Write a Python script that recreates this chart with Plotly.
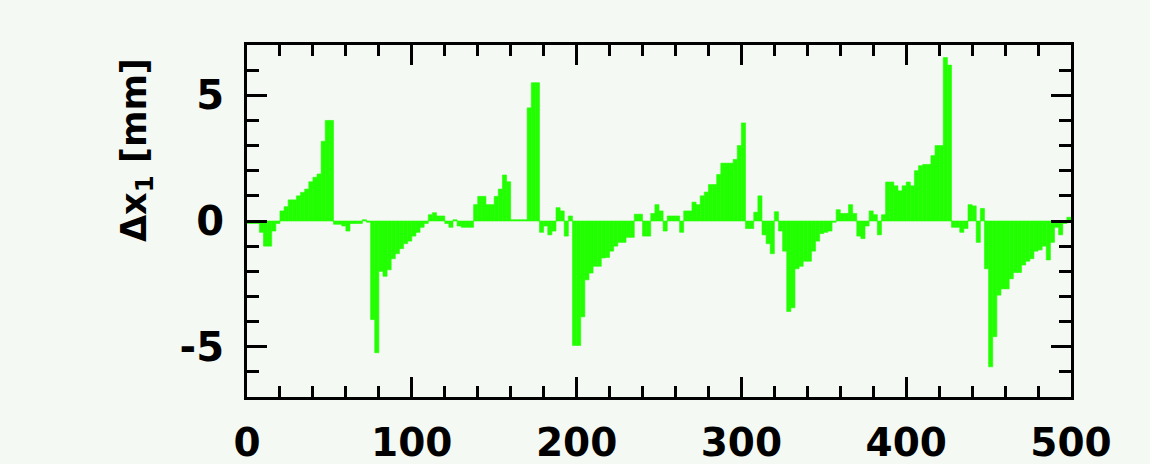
import plotly.graph_objects as go

BIN_WIDTH = 2.5
delta_x1 = [
    -0.1, -0.1, -0.1, -0.45, -1.0, -1.0, -0.4, -0.1, 0.4, 0.57,
    0.84, 0.84, 1.0, 1.14, 1.27, 1.56, 1.74, 1.87, 3.17, 4.0,
    4.0, -0.13, -0.13, -0.2, -0.4, -0.1, -0.1, -0.1, 0.05, -0.05,
    -3.92, -5.24, -2.0, -2.2, -1.94, -1.5, -1.3, -1.1, -0.9, -0.8,
    -0.6, -0.45, -0.25, -0.1, 0.25, 0.33, 0.2, 0.2, -0.1, -0.25,
    0.05, -0.2, -0.25, -0.25, -0.25, 0.65, 0.98, 0.98, 0.65, 0.65,
    0.98, 1.27, 1.83, 1.56, 0.05, 0.05, 0.05, 0.05, 4.5, 5.5,
    5.5, -0.45, -0.2, -0.55, -0.4, 0.53, 0.4, -0.6, 0.2, -4.95,
    -4.95, -3.81, -2.34, -2.07, -1.8, -1.8, -1.47, -1.45, -1.2, -1.0,
    -0.85, -0.85, -0.65, -0.65, 0.27, 0.27, -0.6, -0.6, 0.3, 0.65,
    0.4, -0.4, 0.2, 0.2, 0.2, -0.45, 0.4, 0.4, 0.75, 0.65,
    1.0, 1.15, 1.45, 1.45, 1.85, 2.3, 2.3, 2.3, 2.45, 3.0,
    3.9, -0.3, -0.3, 0.35, 1.0, -0.55, -0.9, -1.3, 0.37, -0.4,
    -1.2, -3.6, -3.45, -1.9, -1.8, -1.6, -1.6, -1.2, -0.8, -0.5,
    -0.45, -0.4, -0.05, 0.45, 0.3, 0.3, 0.65, 0.3, -0.6, -0.7,
    -0.2, 0.4, 0.25, -0.55, 0.25, 1.55, 1.55, 1.4, 1.2, 1.4,
    1.55, 1.4, 2.0, 2.2, 2.25, 2.25, 2.6, 3.0, 3.0, 6.5,
    6.2, -0.25, -0.25, -0.45, -0.3, 0.65, 0.6, -0.85, 0.5, -1.9,
    -5.8, -4.6, -2.95, -2.7, -2.7, -2.3, -2.05, -2.05, -1.75, -1.6,
    -1.5, -1.2, -1.15, -1.0, -1.55, -0.85, -0.25, -0.55, -0.1, 0.15,
]
x_tick_vals = [0, 100, 200, 300, 400, 500]
x_tick_text = ["0", "100", "200", "300", "400", "500"]
y_tick_vals = [-5, 0, 5]
y_tick_text = ["-5", "0", "5"]
y_title = "Δx<sub>1</sub> [mm]"

centers = [(i + 0.5) * BIN_WIDTH for i in range(len(delta_x1))]

GREEN = "#22ff00"
BG = "#f4f9f3"
FONT = "DejaVu Sans"

fig = go.Figure(
    go.Bar(
        x=centers,
        y=delta_x1,
        width=BIN_WIDTH,
        marker=dict(color=GREEN, line=dict(color=GREEN, width=0.6)),
        hoverinfo="skip",
    )
)

axis_common = dict(
    showline=True,
    linewidth=3,
    linecolor="black",
    mirror="allticks",
    ticks="inside",
    ticklen=20,
    tickwidth=3,
    tickcolor="black",
    showgrid=False,
    zeroline=False,
    automargin=False,
)

fig.update_xaxes(
    **axis_common,
    range=[0, 500],
    tickvals=x_tick_vals,
    ticktext=x_tick_text,
    ticklabelstandoff=9,
    tickfont=dict(family=FONT, size=39, color="black", weight="bold"),
    minor=dict(dtick=20, tick0=0, ticks="inside", ticklen=11, tickwidth=3,
               tickcolor="black", showgrid=False),
)
fig.update_yaxes(
    **axis_common,
    range=[-7, 7],
    tickvals=y_tick_vals,
    ticktext=y_tick_text,
    ticklabelstandoff=12,
    tickfont=dict(family=FONT, size=40, color="black", weight="bold"),
    minor=dict(dtick=1, tick0=0, ticks="inside", ticklen=12, tickwidth=3,
               tickcolor="black", showgrid=False),
)

fig.add_annotation(
    text=y_title,
    xref="paper", yref="paper",
    x=(136 - 247) / 824, y=(397 - 150) / 352,
    xanchor="center", yanchor="middle",
    textangle=-90,
    showarrow=False,
    font=dict(family=FONT, size=35, color="black", weight="bold"),
)

fig.update_layout(
    width=1150,
    height=464,
    margin=dict(l=247, r=79, t=45, b=67, pad=0),
    paper_bgcolor=BG,
    plot_bgcolor=BG,
    bargap=0,
    showlegend=False,
)

fig.write_html(
    "out.html",
    config={"displayModeBar": False, "staticPlot": True},
    post_script="document.body.style.margin='0';document.body.style.background='" + BG + "';",
)
